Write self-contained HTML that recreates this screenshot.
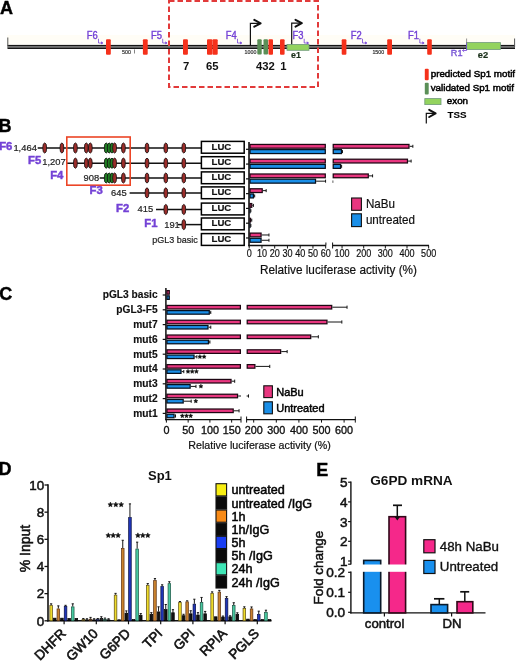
<!DOCTYPE html>
<html><head><meta charset="utf-8"><style>
html,body{margin:0;padding:0;background:#fff;overflow:hidden;}
svg{display:block;font-family:"Liberation Sans",sans-serif;will-change:transform;}
</style></head><body>
<svg width="520" height="661" viewBox="0 0 520 661">
<rect x="0" y="0" width="520" height="661" fill="#fff"/>
<text x="0" y="14" font-size="18" font-weight="bold" fill="#000" text-anchor="start" stroke="#000" stroke-width="0.4" >A</text>
<rect x="7.00" y="35.00" width="508.00" height="9.50" fill="#fffdf6" stroke="none" stroke-width="0" rx="0" />
<rect x="7.50" y="44.90" width="507.50" height="4.10" fill="#161616" stroke="none" stroke-width="0" rx="0" />
<rect x="7.50" y="46.35" width="507.50" height="1.15" fill="#a8a8a8" stroke="none" stroke-width="0" rx="0" />
<line x1="7.80" y1="37.50" x2="7.80" y2="46.00" stroke="#555" stroke-width="1" />
<line x1="514.60" y1="38.50" x2="514.60" y2="47.00" stroke="#555" stroke-width="1" />
<text x="122" y="53.8" font-size="5.3" font-weight="normal" fill="#333" text-anchor="start" stroke="#333" stroke-width="0.2" >500</text>
<text x="244.6" y="53.8" font-size="5.3" font-weight="normal" fill="#333" text-anchor="start" stroke="#333" stroke-width="0.2" >1000</text>
<text x="372.4" y="53.8" font-size="5.3" font-weight="normal" fill="#333" text-anchor="start" stroke="#333" stroke-width="0.2" >1500</text>
<line x1="134.50" y1="49.50" x2="134.50" y2="53.50" stroke="#333" stroke-width="0.6" />
<path d="M250.4 45.5 V23.3 H259.7" fill="none" stroke="#111" stroke-width="1.2"/>
<path d="M254.29999999999998 19.900000000000002 L260.59999999999997 23.3 L254.29999999999998 26.7" fill="none" stroke="#111" stroke-width="2" stroke-linecap="round" stroke-linejoin="round"/>
<path d="M291.7 45.5 V23.2 H300.9" fill="none" stroke="#111" stroke-width="1.2"/>
<path d="M295.5 19.8 L301.79999999999995 23.2 L295.5 26.599999999999998" fill="none" stroke="#111" stroke-width="2" stroke-linecap="round" stroke-linejoin="round"/>
<rect x="287.00" y="44.50" width="22.00" height="5.80" fill="#93d35e" stroke="#6f9a7a" stroke-width="0.8" rx="0" />
<rect x="466.50" y="42.60" width="34.00" height="6.90" fill="#93d35e" stroke="#6f9a7a" stroke-width="0.8" rx="0" />
<line x1="466.60" y1="38.50" x2="466.60" y2="43.00" stroke="#777" stroke-width="0.8" />
<rect x="106.00" y="39.30" width="4.80" height="15.40" fill="#f5311b" stroke="none" stroke-width="0" rx="1" />
<rect x="142.90" y="39.30" width="4.80" height="15.40" fill="#f5311b" stroke="none" stroke-width="0" rx="1" />
<rect x="183.00" y="39.30" width="4.90" height="15.40" fill="#f5311b" stroke="none" stroke-width="0" rx="1" />
<rect x="207.00" y="39.30" width="5.30" height="15.40" fill="#f5311b" stroke="none" stroke-width="0" rx="1" />
<rect x="212.40" y="39.30" width="5.30" height="15.40" fill="#f5311b" stroke="none" stroke-width="0" rx="1" />
<rect x="268.50" y="39.30" width="4.50" height="15.40" fill="#f5311b" stroke="none" stroke-width="0" rx="1" />
<rect x="280.00" y="39.30" width="4.60" height="15.40" fill="#f5311b" stroke="none" stroke-width="0" rx="1" />
<rect x="341.70" y="39.30" width="4.70" height="15.40" fill="#f5311b" stroke="none" stroke-width="0" rx="1" />
<rect x="387.20" y="39.30" width="4.80" height="15.40" fill="#f5311b" stroke="none" stroke-width="0" rx="1" />
<rect x="427.20" y="39.30" width="4.60" height="15.40" fill="#f5311b" stroke="none" stroke-width="0" rx="1" />
<rect x="257.30" y="39.20" width="4.40" height="15.40" fill="#5b8f57" stroke="none" stroke-width="0" rx="1" />
<rect x="263.50" y="39.20" width="4.50" height="15.40" fill="#5b8f57" stroke="none" stroke-width="0" rx="1" />
<text transform="translate(86.8,38.5) scale(0.87,1)" font-size="10.8" font-weight="normal" fill="#7442d6" text-anchor="start" stroke="#7442d6" stroke-width="0.4" >F6</text>
<path d="M98.5 38.8 V43.0 H102.7" fill="none" stroke="#7442d6" stroke-width="0.8"/>
<path d="M101.1 41.7 L102.9 43.0 L101.1 44.0" fill="#7442d6" stroke="#7442d6" stroke-width="0.6"/>
<text transform="translate(151.0,38.5) scale(0.87,1)" font-size="10.8" font-weight="normal" fill="#7442d6" text-anchor="start" stroke="#7442d6" stroke-width="0.4" >F5</text>
<path d="M162.7 38.8 V43.0 H166.89999999999998" fill="none" stroke="#7442d6" stroke-width="0.8"/>
<path d="M165.29999999999998 41.7 L167.1 43.0 L165.29999999999998 44.0" fill="#7442d6" stroke="#7442d6" stroke-width="0.6"/>
<text transform="translate(225.8,38.5) scale(0.87,1)" font-size="10.8" font-weight="normal" fill="#7442d6" text-anchor="start" stroke="#7442d6" stroke-width="0.4" >F4</text>
<path d="M237.5 38.8 V43.0 H241.7" fill="none" stroke="#7442d6" stroke-width="0.8"/>
<path d="M240.1 41.7 L241.9 43.0 L240.1 44.0" fill="#7442d6" stroke="#7442d6" stroke-width="0.6"/>
<text transform="translate(292.5,38.5) scale(0.87,1)" font-size="10.8" font-weight="normal" fill="#7442d6" text-anchor="start" stroke="#7442d6" stroke-width="0.4" >F3</text>
<path d="M304.2 38.8 V43.0 H308.4" fill="none" stroke="#7442d6" stroke-width="0.8"/>
<path d="M306.8 41.7 L308.59999999999997 43.0 L306.8 44.0" fill="#7442d6" stroke="#7442d6" stroke-width="0.6"/>
<text transform="translate(350.8,38.5) scale(0.87,1)" font-size="10.8" font-weight="normal" fill="#7442d6" text-anchor="start" stroke="#7442d6" stroke-width="0.4" >F2</text>
<path d="M362.5 38.8 V43.0 H366.7" fill="none" stroke="#7442d6" stroke-width="0.8"/>
<path d="M365.1 41.7 L366.9 43.0 L365.1 44.0" fill="#7442d6" stroke="#7442d6" stroke-width="0.6"/>
<text transform="translate(408.1,38.5) scale(0.87,1)" font-size="10.8" font-weight="normal" fill="#7442d6" text-anchor="start" stroke="#7442d6" stroke-width="0.4" >F1</text>
<path d="M419.8 38.8 V43.0 H424.0" fill="none" stroke="#7442d6" stroke-width="0.8"/>
<path d="M422.40000000000003 41.7 L424.2 43.0 L422.40000000000003 44.0" fill="#7442d6" stroke="#7442d6" stroke-width="0.6"/>
<text x="450.8" y="56.4" font-size="9.2" font-weight="normal" fill="#7552d4" text-anchor="start" stroke="#7552d4" stroke-width="0.35" >R1</text>
<path d="M466.6 43 V50.5 H462.5" fill="none" stroke="#7442d6" stroke-width="0.8"/>
<path d="M464.2 49 L462.5 50.5 L464.2 52" fill="none" stroke="#7442d6" stroke-width="0.7"/>
<text x="291.0" y="58.0" font-size="8.9" font-weight="bold" fill="#1a301a" text-anchor="start" stroke="#1a301a" stroke-width="0.2" >e1</text>
<text x="477.8" y="58.0" font-size="9.3" font-weight="bold" fill="#1a301a" text-anchor="start" stroke="#1a301a" stroke-width="0.2" >e2</text>
<text x="183" y="69.6" font-size="11.3" font-weight="bold" fill="#111" text-anchor="start" >7</text>
<text x="206" y="69.6" font-size="11.3" font-weight="bold" fill="#111" text-anchor="start" >65</text>
<text x="256" y="69.6" font-size="11.3" font-weight="bold" fill="#111" text-anchor="start" >432</text>
<text x="280.2" y="69.6" font-size="11.3" font-weight="bold" fill="#111" text-anchor="start" >1</text>
<rect x="169" y="1" width="149" height="86" fill="none" stroke="#e23a3a" stroke-width="2" stroke-dasharray="5.5 3"/>
<rect x="424.80" y="68.70" width="3.90" height="11.50" fill="#f5311b" stroke="none" stroke-width="0" rx="1" />
<rect x="424.80" y="82.80" width="3.90" height="11.80" fill="#5b8f57" stroke="none" stroke-width="0" rx="1" />
<rect x="424.80" y="98.60" width="16.20" height="6.00" fill="#93d35e" stroke="#6f9a7a" stroke-width="0.8" rx="0" />
<text x="430.7" y="77.1" font-size="9.8" font-weight="normal" fill="#000" text-anchor="start" stroke="#000" stroke-width="0.5" >predicted Sp1 motif</text>
<text x="430.7" y="90.6" font-size="9.8" font-weight="normal" fill="#000" text-anchor="start" stroke="#000" stroke-width="0.5" >validated Sp1 motif</text>
<text x="446.8" y="103.7" font-size="9.8" font-weight="normal" fill="#000" text-anchor="start" stroke="#000" stroke-width="0.5" >exon</text>
<text x="447.5" y="117.6" font-size="9.8" font-weight="bold" fill="#000" text-anchor="start" stroke="#000" stroke-width="0.1" >TSS</text>
<path d="M426.3 123.6 V113.4 H435" fill="none" stroke="#111" stroke-width="1.2"/>
<path d="M429.2 109.8 L435.6 113.4 L429.2 117" fill="none" stroke="#111" stroke-width="2" stroke-linecap="round" stroke-linejoin="round"/>
<text x="-1.5" y="131.5" font-size="18" font-weight="bold" fill="#000" text-anchor="start" stroke="#000" stroke-width="0.4" >B</text>
<line x1="37.70" y1="148.00" x2="201.20" y2="148.00" stroke="#111" stroke-width="1.5" />
<ellipse cx="106.2" cy="148.0" rx="1.95" ry="5.1" fill="#1f7d22" stroke="#111" stroke-width="0.8"/>
<ellipse cx="109.2" cy="148.0" rx="1.95" ry="5.1" fill="#1f7d22" stroke="#111" stroke-width="0.8"/>
<ellipse cx="112" cy="148.0" rx="1.95" ry="5.1" fill="#1f7d22" stroke="#111" stroke-width="0.8"/>
<ellipse cx="44.7" cy="148.0" rx="1.95" ry="5.1" fill="#9c2d2a" stroke="#111" stroke-width="0.8"/>
<ellipse cx="61.9" cy="148.0" rx="1.95" ry="5.1" fill="#9c2d2a" stroke="#111" stroke-width="0.8"/>
<ellipse cx="75.4" cy="148.0" rx="1.95" ry="5.1" fill="#9c2d2a" stroke="#111" stroke-width="0.8"/>
<ellipse cx="86.3" cy="148.0" rx="1.95" ry="5.1" fill="#9c2d2a" stroke="#111" stroke-width="0.8"/>
<ellipse cx="90.3" cy="148.0" rx="1.95" ry="5.1" fill="#9c2d2a" stroke="#111" stroke-width="0.8"/>
<ellipse cx="114.6" cy="148.0" rx="1.95" ry="5.1" fill="#9c2d2a" stroke="#111" stroke-width="0.8"/>
<ellipse cx="123.4" cy="148.0" rx="1.95" ry="5.1" fill="#9c2d2a" stroke="#111" stroke-width="0.8"/>
<ellipse cx="147" cy="148.0" rx="1.95" ry="5.1" fill="#9c2d2a" stroke="#111" stroke-width="0.8"/>
<ellipse cx="165.8" cy="148.0" rx="1.95" ry="5.1" fill="#9c2d2a" stroke="#111" stroke-width="0.8"/>
<ellipse cx="183.8" cy="148.0" rx="1.95" ry="5.1" fill="#9c2d2a" stroke="#111" stroke-width="0.8"/>
<line x1="66.20" y1="163.20" x2="201.20" y2="163.20" stroke="#111" stroke-width="1.5" />
<ellipse cx="106.2" cy="163.2" rx="1.95" ry="5.1" fill="#1f7d22" stroke="#111" stroke-width="0.8"/>
<ellipse cx="109.2" cy="163.2" rx="1.95" ry="5.1" fill="#1f7d22" stroke="#111" stroke-width="0.8"/>
<ellipse cx="112" cy="163.2" rx="1.95" ry="5.1" fill="#1f7d22" stroke="#111" stroke-width="0.8"/>
<ellipse cx="75.4" cy="163.2" rx="1.95" ry="5.1" fill="#9c2d2a" stroke="#111" stroke-width="0.8"/>
<ellipse cx="86.3" cy="163.2" rx="1.95" ry="5.1" fill="#9c2d2a" stroke="#111" stroke-width="0.8"/>
<ellipse cx="90.3" cy="163.2" rx="1.95" ry="5.1" fill="#9c2d2a" stroke="#111" stroke-width="0.8"/>
<ellipse cx="114.6" cy="163.2" rx="1.95" ry="5.1" fill="#9c2d2a" stroke="#111" stroke-width="0.8"/>
<ellipse cx="123.4" cy="163.2" rx="1.95" ry="5.1" fill="#9c2d2a" stroke="#111" stroke-width="0.8"/>
<ellipse cx="147" cy="163.2" rx="1.95" ry="5.1" fill="#9c2d2a" stroke="#111" stroke-width="0.8"/>
<ellipse cx="165.8" cy="163.2" rx="1.95" ry="5.1" fill="#9c2d2a" stroke="#111" stroke-width="0.8"/>
<ellipse cx="183.8" cy="163.2" rx="1.95" ry="5.1" fill="#9c2d2a" stroke="#111" stroke-width="0.8"/>
<line x1="99.70" y1="178.00" x2="201.20" y2="178.00" stroke="#111" stroke-width="1.5" />
<ellipse cx="106.2" cy="178.0" rx="1.95" ry="5.1" fill="#1f7d22" stroke="#111" stroke-width="0.8"/>
<ellipse cx="109.2" cy="178.0" rx="1.95" ry="5.1" fill="#1f7d22" stroke="#111" stroke-width="0.8"/>
<ellipse cx="112" cy="178.0" rx="1.95" ry="5.1" fill="#1f7d22" stroke="#111" stroke-width="0.8"/>
<ellipse cx="114.6" cy="178.0" rx="1.95" ry="5.1" fill="#9c2d2a" stroke="#111" stroke-width="0.8"/>
<ellipse cx="123.4" cy="178.0" rx="1.95" ry="5.1" fill="#9c2d2a" stroke="#111" stroke-width="0.8"/>
<ellipse cx="147" cy="178.0" rx="1.95" ry="5.1" fill="#9c2d2a" stroke="#111" stroke-width="0.8"/>
<ellipse cx="165.8" cy="178.0" rx="1.95" ry="5.1" fill="#9c2d2a" stroke="#111" stroke-width="0.8"/>
<ellipse cx="183.8" cy="178.0" rx="1.95" ry="5.1" fill="#9c2d2a" stroke="#111" stroke-width="0.8"/>
<line x1="129.60" y1="192.90" x2="201.20" y2="192.90" stroke="#111" stroke-width="1.5" />
<ellipse cx="147" cy="192.9" rx="1.95" ry="5.1" fill="#9c2d2a" stroke="#111" stroke-width="0.8"/>
<ellipse cx="165.8" cy="192.9" rx="1.95" ry="5.1" fill="#9c2d2a" stroke="#111" stroke-width="0.8"/>
<ellipse cx="183.8" cy="192.9" rx="1.95" ry="5.1" fill="#9c2d2a" stroke="#111" stroke-width="0.8"/>
<line x1="156.00" y1="209.50" x2="201.20" y2="209.50" stroke="#111" stroke-width="1.5" />
<ellipse cx="165.8" cy="209.5" rx="1.95" ry="5.1" fill="#9c2d2a" stroke="#111" stroke-width="0.8"/>
<ellipse cx="183.8" cy="209.5" rx="1.95" ry="5.1" fill="#9c2d2a" stroke="#111" stroke-width="0.8"/>
<line x1="178.00" y1="224.60" x2="201.20" y2="224.60" stroke="#111" stroke-width="1.5" />
<ellipse cx="183.8" cy="224.6" rx="1.95" ry="5.1" fill="#9c2d2a" stroke="#111" stroke-width="0.8"/>
<rect x="66.80" y="137.00" width="63.40" height="48.20" fill="none" stroke="#ec4526" stroke-width="1.6" rx="0" />
<rect x="201.40" y="141.40" width="42.80" height="11.80" fill="#fff" stroke="#000" stroke-width="1.5" rx="0" />
<text x="221.4" y="149.5" font-size="9.6" font-weight="bold" fill="#111" text-anchor="middle" stroke="#111" stroke-width="0.2" >LUC</text>
<rect x="201.40" y="156.70" width="42.80" height="11.80" fill="#fff" stroke="#000" stroke-width="1.5" rx="0" />
<text x="221.4" y="164.8" font-size="9.6" font-weight="bold" fill="#111" text-anchor="middle" stroke="#111" stroke-width="0.2" >LUC</text>
<rect x="201.40" y="171.90" width="42.80" height="11.80" fill="#fff" stroke="#000" stroke-width="1.5" rx="0" />
<text x="221.4" y="180.0" font-size="9.6" font-weight="bold" fill="#111" text-anchor="middle" stroke="#111" stroke-width="0.2" >LUC</text>
<rect x="201.40" y="186.90" width="42.80" height="11.80" fill="#fff" stroke="#000" stroke-width="1.5" rx="0" />
<text x="221.4" y="195.0" font-size="9.6" font-weight="bold" fill="#111" text-anchor="middle" stroke="#111" stroke-width="0.2" >LUC</text>
<rect x="201.40" y="203.10" width="42.80" height="11.80" fill="#fff" stroke="#000" stroke-width="1.5" rx="0" />
<text x="221.4" y="211.2" font-size="9.6" font-weight="bold" fill="#111" text-anchor="middle" stroke="#111" stroke-width="0.2" >LUC</text>
<rect x="201.40" y="218.00" width="42.80" height="11.80" fill="#fff" stroke="#000" stroke-width="1.5" rx="0" />
<text x="221.4" y="226.1" font-size="9.6" font-weight="bold" fill="#111" text-anchor="middle" stroke="#111" stroke-width="0.2" >LUC</text>
<rect x="201.40" y="233.60" width="42.80" height="11.80" fill="#fff" stroke="#000" stroke-width="1.5" rx="0" />
<text x="221.4" y="241.7" font-size="9.6" font-weight="bold" fill="#111" text-anchor="middle" stroke="#111" stroke-width="0.2" >LUC</text>
<text x="-0.8" y="150.1" font-size="11.3" font-weight="bold" fill="#7442d6" text-anchor="start" stroke="#7442d6" stroke-width="0.45" >F6</text>
<text x="28.0" y="164.4" font-size="11.3" font-weight="bold" fill="#7442d6" text-anchor="start" stroke="#7442d6" stroke-width="0.45" >F5</text>
<text x="50.2" y="179" font-size="11.3" font-weight="bold" fill="#7442d6" text-anchor="start" stroke="#7442d6" stroke-width="0.45" >F4</text>
<text x="89.5" y="194.4" font-size="11.3" font-weight="bold" fill="#7442d6" text-anchor="start" stroke="#7442d6" stroke-width="0.45" >F3</text>
<text x="116" y="212.3" font-size="11.3" font-weight="bold" fill="#7442d6" text-anchor="start" stroke="#7442d6" stroke-width="0.45" >F2</text>
<text x="144.3" y="227" font-size="11.3" font-weight="bold" fill="#7442d6" text-anchor="start" stroke="#7442d6" stroke-width="0.45" >F1</text>
<text x="13.4" y="150.9" font-size="9.4" font-weight="normal" fill="#222" text-anchor="start" stroke="#222" stroke-width="0.2" >1,464</text>
<text x="42.3" y="165.4" font-size="9.4" font-weight="normal" fill="#222" text-anchor="start" stroke="#222" stroke-width="0.2" >1,207</text>
<text x="83.6" y="181.2" font-size="9.4" font-weight="normal" fill="#222" text-anchor="start" stroke="#222" stroke-width="0.2" >908</text>
<text x="111" y="196.4" font-size="9.4" font-weight="normal" fill="#222" text-anchor="start" stroke="#222" stroke-width="0.2" >645</text>
<text x="137.5" y="212.3" font-size="9.4" font-weight="normal" fill="#222" text-anchor="start" stroke="#222" stroke-width="0.2" >415</text>
<text x="164.2" y="227.6" font-size="9.4" font-weight="normal" fill="#222" text-anchor="start" stroke="#222" stroke-width="0.2" >191</text>
<text x="197.8" y="242.6" font-size="9" font-weight="normal" fill="#222" text-anchor="end" stroke="#222" stroke-width="0.2" >pGL3 basic</text>
<line x1="249.00" y1="142.00" x2="249.00" y2="246.20" stroke="#111" stroke-width="1.6" />
<line x1="246.00" y1="149.30" x2="249.00" y2="149.30" stroke="#111" stroke-width="1.2" />
<line x1="246.00" y1="164.08" x2="249.00" y2="164.08" stroke="#111" stroke-width="1.2" />
<line x1="246.00" y1="178.86" x2="249.00" y2="178.86" stroke="#111" stroke-width="1.2" />
<line x1="246.00" y1="193.64" x2="249.00" y2="193.64" stroke="#111" stroke-width="1.2" />
<line x1="246.00" y1="208.42" x2="249.00" y2="208.42" stroke="#111" stroke-width="1.2" />
<line x1="246.00" y1="223.20" x2="249.00" y2="223.20" stroke="#111" stroke-width="1.2" />
<line x1="246.00" y1="237.98" x2="249.00" y2="237.98" stroke="#111" stroke-width="1.2" />
<rect x="250.03" y="144.43" width="75.25" height="3.75" fill="#e8367f" stroke="#1e0612" stroke-width="1.25" rx="0" />
<rect x="333.23" y="144.43" width="75.75" height="3.75" fill="#e8367f" stroke="#1e0612" stroke-width="1.25" rx="0" />
<line x1="409.60" y1="146.30" x2="412.85" y2="146.30" stroke="#151515" stroke-width="1.0" />
<line x1="412.85" y1="144.80" x2="412.85" y2="147.80" stroke="#151515" stroke-width="1.0" />
<rect x="250.03" y="149.62" width="75.25" height="3.95" fill="#1a8fe8" stroke="#06101e" stroke-width="1.25" rx="0" />
<rect x="333.23" y="149.62" width="8.20" height="3.95" fill="#1a8fe8" stroke="#06101e" stroke-width="1.25" rx="0" />
<line x1="342.05" y1="151.60" x2="342.48" y2="151.60" stroke="#151515" stroke-width="1.0" />
<line x1="342.48" y1="150.10" x2="342.48" y2="153.10" stroke="#151515" stroke-width="1.0" />
<rect x="250.03" y="159.21" width="75.25" height="3.75" fill="#e8367f" stroke="#1e0612" stroke-width="1.25" rx="0" />
<rect x="333.23" y="159.21" width="74.23" height="3.75" fill="#e8367f" stroke="#1e0612" stroke-width="1.25" rx="0" />
<line x1="408.08" y1="161.08" x2="411.11" y2="161.08" stroke="#151515" stroke-width="1.0" />
<line x1="411.11" y1="159.58" x2="411.11" y2="162.58" stroke="#151515" stroke-width="1.0" />
<rect x="250.03" y="164.41" width="75.25" height="3.95" fill="#1a8fe8" stroke="#06101e" stroke-width="1.25" rx="0" />
<rect x="333.23" y="164.41" width="7.33" height="3.95" fill="#1a8fe8" stroke="#06101e" stroke-width="1.25" rx="0" />
<line x1="341.18" y1="166.38" x2="341.62" y2="166.38" stroke="#151515" stroke-width="1.0" />
<line x1="341.62" y1="164.88" x2="341.62" y2="167.88" stroke="#151515" stroke-width="1.0" />
<rect x="250.03" y="173.99" width="75.25" height="3.75" fill="#e8367f" stroke="#1e0612" stroke-width="1.25" rx="0" />
<rect x="333.23" y="173.99" width="35.05" height="3.75" fill="#e8367f" stroke="#1e0612" stroke-width="1.25" rx="0" />
<line x1="368.90" y1="175.86" x2="372.58" y2="175.86" stroke="#151515" stroke-width="1.0" />
<line x1="372.58" y1="174.36" x2="372.58" y2="177.36" stroke="#151515" stroke-width="1.0" />
<rect x="250.03" y="179.19" width="65.49" height="3.95" fill="#1a8fe8" stroke="#06101e" stroke-width="1.25" rx="0" />
<line x1="316.14" y1="181.16" x2="325.57" y2="181.16" stroke="#151515" stroke-width="1.0" />
<line x1="325.57" y1="179.66" x2="325.57" y2="182.66" stroke="#151515" stroke-width="1.0" />
<rect x="250.03" y="188.77" width="12.19" height="3.75" fill="#e8367f" stroke="#1e0612" stroke-width="1.25" rx="0" />
<line x1="262.84" y1="190.64" x2="266.16" y2="190.64" stroke="#151515" stroke-width="1.0" />
<line x1="266.16" y1="189.14" x2="266.16" y2="192.14" stroke="#151515" stroke-width="1.0" />
<rect x="250.03" y="193.97" width="3.39" height="3.95" fill="#1a8fe8" stroke="#06101e" stroke-width="1.25" rx="0" />
<line x1="254.04" y1="195.94" x2="254.68" y2="195.94" stroke="#151515" stroke-width="1.0" />
<line x1="254.68" y1="194.44" x2="254.68" y2="197.44" stroke="#151515" stroke-width="1.0" />
<rect x="250.03" y="203.55" width="1.74" height="3.75" fill="#e8367f" stroke="#1e0612" stroke-width="1.25" rx="0" />
<line x1="252.39" y1="205.42" x2="253.41" y2="205.42" stroke="#151515" stroke-width="1.0" />
<line x1="253.41" y1="203.92" x2="253.41" y2="206.92" stroke="#151515" stroke-width="1.0" />
<rect x="250.03" y="208.75" width="0.01" height="3.95" fill="#1a8fe8" stroke="#06101e" stroke-width="1.25" rx="0" />
<line x1="250.47" y1="210.72" x2="250.86" y2="210.72" stroke="#151515" stroke-width="1.0" />
<line x1="250.86" y1="209.22" x2="250.86" y2="212.22" stroke="#151515" stroke-width="1.0" />
<rect x="250.03" y="218.32" width="0.46" height="3.75" fill="#e8367f" stroke="#1e0612" stroke-width="1.25" rx="0" />
<line x1="251.11" y1="220.20" x2="251.75" y2="220.20" stroke="#151515" stroke-width="1.0" />
<line x1="251.75" y1="218.70" x2="251.75" y2="221.70" stroke="#151515" stroke-width="1.0" />
<rect x="250.03" y="223.52" width="0.01" height="3.95" fill="#1a8fe8" stroke="#06101e" stroke-width="1.25" rx="0" />
<line x1="250.47" y1="225.50" x2="250.86" y2="225.50" stroke="#151515" stroke-width="1.0" />
<line x1="250.86" y1="224.00" x2="250.86" y2="227.00" stroke="#151515" stroke-width="1.0" />
<rect x="250.03" y="233.11" width="11.04" height="3.75" fill="#e8367f" stroke="#1e0612" stroke-width="1.25" rx="0" />
<line x1="261.69" y1="234.98" x2="268.96" y2="234.98" stroke="#151515" stroke-width="1.0" />
<line x1="268.96" y1="233.48" x2="268.96" y2="236.48" stroke="#151515" stroke-width="1.0" />
<rect x="250.03" y="238.31" width="11.04" height="3.95" fill="#1a8fe8" stroke="#06101e" stroke-width="1.25" rx="0" />
<line x1="261.69" y1="240.28" x2="268.96" y2="240.28" stroke="#151515" stroke-width="1.0" />
<line x1="268.96" y1="238.78" x2="268.96" y2="241.78" stroke="#151515" stroke-width="1.0" />
<line x1="332.90" y1="180.46" x2="332.90" y2="182.86" stroke="#333" stroke-width="0.8" />
<line x1="248.20" y1="245.50" x2="325.90" y2="245.50" stroke="#111" stroke-width="1.4" />
<line x1="332.60" y1="245.50" x2="429.00" y2="245.50" stroke="#111" stroke-width="1.4" />
<line x1="325.90" y1="242.50" x2="325.90" y2="245.50" stroke="#111" stroke-width="1" />
<line x1="332.60" y1="242.50" x2="332.60" y2="248.50" stroke="#111" stroke-width="1" />
<line x1="249.20" y1="245.50" x2="249.20" y2="248.50" stroke="#111" stroke-width="1" />
<text transform="translate(249.2,257.2) scale(0.84,1)" font-size="10.8" font-weight="normal" fill="#111" text-anchor="middle" stroke="#111" stroke-width="0.2" >0</text>
<line x1="261.95" y1="245.50" x2="261.95" y2="248.50" stroke="#111" stroke-width="1" />
<text transform="translate(261.95,257.2) scale(0.84,1)" font-size="10.8" font-weight="normal" fill="#111" text-anchor="middle" stroke="#111" stroke-width="0.2" >10</text>
<line x1="274.70" y1="245.50" x2="274.70" y2="248.50" stroke="#111" stroke-width="1" />
<text transform="translate(274.7,257.2) scale(0.84,1)" font-size="10.8" font-weight="normal" fill="#111" text-anchor="middle" stroke="#111" stroke-width="0.2" >20</text>
<line x1="287.45" y1="245.50" x2="287.45" y2="248.50" stroke="#111" stroke-width="1" />
<text transform="translate(287.45,257.2) scale(0.84,1)" font-size="10.8" font-weight="normal" fill="#111" text-anchor="middle" stroke="#111" stroke-width="0.2" >30</text>
<line x1="300.20" y1="245.50" x2="300.20" y2="248.50" stroke="#111" stroke-width="1" />
<text transform="translate(300.2,257.2) scale(0.84,1)" font-size="10.8" font-weight="normal" fill="#111" text-anchor="middle" stroke="#111" stroke-width="0.2" >40</text>
<line x1="312.95" y1="245.50" x2="312.95" y2="248.50" stroke="#111" stroke-width="1" />
<text transform="translate(312.95,257.2) scale(0.84,1)" font-size="10.8" font-weight="normal" fill="#111" text-anchor="middle" stroke="#111" stroke-width="0.2" >50</text>
<line x1="325.70" y1="245.50" x2="325.70" y2="248.50" stroke="#111" stroke-width="1" />
<text transform="translate(325.7,257.2) scale(0.84,1)" font-size="10.8" font-weight="normal" fill="#111" text-anchor="middle" stroke="#111" stroke-width="0.2" >60</text>
<line x1="342.05" y1="245.50" x2="342.05" y2="248.50" stroke="#111" stroke-width="1" />
<text transform="translate(342.04999999999995,257.2) scale(0.84,1)" font-size="10.8" font-weight="normal" fill="#111" text-anchor="middle" stroke="#111" stroke-width="0.2" >100</text>
<line x1="363.70" y1="245.50" x2="363.70" y2="248.50" stroke="#111" stroke-width="1" />
<text transform="translate(363.7,257.2) scale(0.84,1)" font-size="10.8" font-weight="normal" fill="#111" text-anchor="middle" stroke="#111" stroke-width="0.2" >200</text>
<line x1="385.35" y1="245.50" x2="385.35" y2="248.50" stroke="#111" stroke-width="1" />
<text transform="translate(385.34999999999997,257.2) scale(0.84,1)" font-size="10.8" font-weight="normal" fill="#111" text-anchor="middle" stroke="#111" stroke-width="0.2" >300</text>
<line x1="407.00" y1="245.50" x2="407.00" y2="248.50" stroke="#111" stroke-width="1" />
<text transform="translate(407.0,257.2) scale(0.84,1)" font-size="10.8" font-weight="normal" fill="#111" text-anchor="middle" stroke="#111" stroke-width="0.2" >400</text>
<line x1="428.65" y1="245.50" x2="428.65" y2="248.50" stroke="#111" stroke-width="1" />
<text transform="translate(428.65,257.2) scale(0.84,1)" font-size="10.8" font-weight="normal" fill="#111" text-anchor="middle" stroke="#111" stroke-width="0.2" >500</text>
<text transform="translate(259.9,274.2) scale(0.893,1)" font-size="13.2" font-weight="normal" fill="#111" text-anchor="start" stroke="#111" stroke-width="0.2" >Relative luciferase activity (%)</text>
<rect x="351.60" y="198.00" width="9.80" height="12.30" fill="#e8367f" stroke="#111" stroke-width="1.1" rx="0" />
<rect x="351.60" y="213.80" width="9.80" height="12.80" fill="#1a8fe8" stroke="#111" stroke-width="1.1" rx="0" />
<text transform="translate(365.9,208.2) scale(0.93,1)" font-size="12.5" font-weight="normal" fill="#111" text-anchor="start" stroke="#111" stroke-width="0.2" >NaBu</text>
<text transform="translate(365.9,224.2) scale(0.93,1)" font-size="12.5" font-weight="normal" fill="#111" text-anchor="start" stroke="#111" stroke-width="0.2" >untreated</text>
<text x="-0.8" y="300.2" font-size="18" font-weight="bold" fill="#000" text-anchor="start" stroke="#000" stroke-width="0.4" >C</text>
<line x1="165.90" y1="288.00" x2="165.90" y2="420.20" stroke="#111" stroke-width="1.5" />
<line x1="162.70" y1="295.00" x2="165.90" y2="295.00" stroke="#111" stroke-width="1.2" />
<text x="157.6" y="298.4" font-size="10.2" font-weight="bold" fill="#111" text-anchor="end" stroke="#111" stroke-width="0.15" >pGL3 basic</text>
<line x1="162.70" y1="309.80" x2="165.90" y2="309.80" stroke="#111" stroke-width="1.2" />
<text x="157.6" y="313.2" font-size="10.2" font-weight="bold" fill="#111" text-anchor="end" stroke="#111" stroke-width="0.15" >pGL3-F5</text>
<line x1="162.70" y1="324.60" x2="165.90" y2="324.60" stroke="#111" stroke-width="1.2" />
<text x="157.6" y="328.0" font-size="10.2" font-weight="bold" fill="#111" text-anchor="end" stroke="#111" stroke-width="0.15" >mut7</text>
<line x1="162.70" y1="339.40" x2="165.90" y2="339.40" stroke="#111" stroke-width="1.2" />
<text x="157.6" y="342.79999999999995" font-size="10.2" font-weight="bold" fill="#111" text-anchor="end" stroke="#111" stroke-width="0.15" >mut6</text>
<line x1="162.70" y1="354.20" x2="165.90" y2="354.20" stroke="#111" stroke-width="1.2" />
<text x="157.6" y="357.59999999999997" font-size="10.2" font-weight="bold" fill="#111" text-anchor="end" stroke="#111" stroke-width="0.15" >mut5</text>
<line x1="162.70" y1="369.00" x2="165.90" y2="369.00" stroke="#111" stroke-width="1.2" />
<text x="157.6" y="372.4" font-size="10.2" font-weight="bold" fill="#111" text-anchor="end" stroke="#111" stroke-width="0.15" >mut4</text>
<line x1="162.70" y1="383.80" x2="165.90" y2="383.80" stroke="#111" stroke-width="1.2" />
<text x="157.6" y="387.2" font-size="10.2" font-weight="bold" fill="#111" text-anchor="end" stroke="#111" stroke-width="0.15" >mut3</text>
<line x1="162.70" y1="398.60" x2="165.90" y2="398.60" stroke="#111" stroke-width="1.2" />
<text x="157.6" y="402.0" font-size="10.2" font-weight="bold" fill="#111" text-anchor="end" stroke="#111" stroke-width="0.15" >mut2</text>
<line x1="162.70" y1="413.40" x2="165.90" y2="413.40" stroke="#111" stroke-width="1.2" />
<text x="157.6" y="416.79999999999995" font-size="10.2" font-weight="bold" fill="#111" text-anchor="end" stroke="#111" stroke-width="0.15" >mut1</text>
<rect x="166.93" y="290.62" width="2.33" height="3.55" fill="#e8367f" stroke="#1e0612" stroke-width="1.25" rx="0" />
<rect x="166.93" y="295.82" width="2.33" height="3.55" fill="#1a8fe8" stroke="#06101e" stroke-width="1.25" rx="0" />
<rect x="166.93" y="305.43" width="73.45" height="3.55" fill="#e8367f" stroke="#1e0612" stroke-width="1.25" rx="0" />
<rect x="247.22" y="305.43" width="84.50" height="3.55" fill="#e8367f" stroke="#1e0612" stroke-width="1.25" rx="0" />
<line x1="332.35" y1="307.20" x2="347.04" y2="307.20" stroke="#151515" stroke-width="1.0" />
<line x1="347.04" y1="305.60" x2="347.04" y2="308.80" stroke="#151515" stroke-width="1.0" />
<rect x="166.93" y="310.62" width="42.35" height="3.55" fill="#1a8fe8" stroke="#06101e" stroke-width="1.25" rx="0" />
<line x1="209.90" y1="312.40" x2="210.77" y2="312.40" stroke="#151515" stroke-width="1.0" />
<line x1="210.77" y1="310.80" x2="210.77" y2="314.00" stroke="#151515" stroke-width="1.0" />
<rect x="166.93" y="320.23" width="73.45" height="3.55" fill="#e8367f" stroke="#1e0612" stroke-width="1.25" rx="0" />
<rect x="247.22" y="320.23" width="79.75" height="3.55" fill="#e8367f" stroke="#1e0612" stroke-width="1.25" rx="0" />
<line x1="327.60" y1="322.00" x2="341.84" y2="322.00" stroke="#151515" stroke-width="1.0" />
<line x1="341.84" y1="320.40" x2="341.84" y2="323.60" stroke="#151515" stroke-width="1.0" />
<rect x="166.93" y="325.43" width="41.04" height="3.55" fill="#1a8fe8" stroke="#06101e" stroke-width="1.25" rx="0" />
<line x1="208.59" y1="327.20" x2="210.77" y2="327.20" stroke="#151515" stroke-width="1.0" />
<line x1="210.77" y1="325.60" x2="210.77" y2="328.80" stroke="#151515" stroke-width="1.0" />
<rect x="166.93" y="335.02" width="73.45" height="3.55" fill="#e8367f" stroke="#1e0612" stroke-width="1.25" rx="0" />
<rect x="247.22" y="335.02" width="63.48" height="3.55" fill="#e8367f" stroke="#1e0612" stroke-width="1.25" rx="0" />
<line x1="311.33" y1="336.80" x2="318.34" y2="336.80" stroke="#151515" stroke-width="1.0" />
<line x1="318.34" y1="335.20" x2="318.34" y2="338.40" stroke="#151515" stroke-width="1.0" />
<rect x="166.93" y="340.22" width="41.48" height="3.55" fill="#1a8fe8" stroke="#06101e" stroke-width="1.25" rx="0" />
<line x1="209.03" y1="342.00" x2="209.90" y2="342.00" stroke="#151515" stroke-width="1.0" />
<line x1="209.90" y1="340.40" x2="209.90" y2="343.60" stroke="#151515" stroke-width="1.0" />
<rect x="166.93" y="349.82" width="73.45" height="3.55" fill="#e8367f" stroke="#1e0612" stroke-width="1.25" rx="0" />
<rect x="247.22" y="349.82" width="33.42" height="3.55" fill="#e8367f" stroke="#1e0612" stroke-width="1.25" rx="0" />
<line x1="281.27" y1="351.60" x2="287.15" y2="351.60" stroke="#151515" stroke-width="1.0" />
<line x1="287.15" y1="350.00" x2="287.15" y2="353.20" stroke="#151515" stroke-width="1.0" />
<rect x="166.93" y="355.02" width="27.12" height="3.55" fill="#1a8fe8" stroke="#06101e" stroke-width="1.25" rx="0" />
<line x1="194.68" y1="356.80" x2="196.85" y2="356.80" stroke="#151515" stroke-width="1.0" />
<line x1="196.85" y1="355.20" x2="196.85" y2="358.40" stroke="#151515" stroke-width="1.0" />
<rect x="166.93" y="364.62" width="73.45" height="3.55" fill="#e8367f" stroke="#1e0612" stroke-width="1.25" rx="0" />
<rect x="247.22" y="364.62" width="7.66" height="3.55" fill="#e8367f" stroke="#1e0612" stroke-width="1.25" rx="0" />
<line x1="255.51" y1="366.40" x2="269.75" y2="366.40" stroke="#151515" stroke-width="1.0" />
<line x1="269.75" y1="364.80" x2="269.75" y2="368.00" stroke="#151515" stroke-width="1.0" />
<rect x="166.93" y="369.82" width="14.07" height="3.55" fill="#1a8fe8" stroke="#06101e" stroke-width="1.25" rx="0" />
<line x1="181.62" y1="371.60" x2="183.80" y2="371.60" stroke="#151515" stroke-width="1.0" />
<line x1="183.80" y1="370.00" x2="183.80" y2="373.20" stroke="#151515" stroke-width="1.0" />
<rect x="166.93" y="379.43" width="64.10" height="3.55" fill="#e8367f" stroke="#1e0612" stroke-width="1.25" rx="0" />
<line x1="231.65" y1="381.20" x2="234.69" y2="381.20" stroke="#151515" stroke-width="1.0" />
<line x1="234.69" y1="379.60" x2="234.69" y2="382.80" stroke="#151515" stroke-width="1.0" />
<rect x="166.93" y="384.62" width="23.21" height="3.55" fill="#1a8fe8" stroke="#06101e" stroke-width="1.25" rx="0" />
<line x1="190.76" y1="386.40" x2="195.98" y2="386.40" stroke="#151515" stroke-width="1.0" />
<line x1="195.98" y1="384.80" x2="195.98" y2="388.00" stroke="#151515" stroke-width="1.0" />
<rect x="166.93" y="394.23" width="70.62" height="3.55" fill="#e8367f" stroke="#1e0612" stroke-width="1.25" rx="0" />
<line x1="238.18" y1="396.00" x2="241.00" y2="396.00" stroke="#151515" stroke-width="1.0" />
<line x1="246.60" y1="396.00" x2="248.50" y2="396.00" stroke="#151515" stroke-width="1.0" />
<line x1="248.50" y1="394.40" x2="248.50" y2="397.60" stroke="#151515" stroke-width="1.0" />
<rect x="166.93" y="399.43" width="16.25" height="3.55" fill="#1a8fe8" stroke="#06101e" stroke-width="1.25" rx="0" />
<line x1="183.80" y1="401.20" x2="191.19" y2="401.20" stroke="#151515" stroke-width="1.0" />
<line x1="191.19" y1="399.60" x2="191.19" y2="402.80" stroke="#151515" stroke-width="1.0" />
<rect x="166.93" y="409.02" width="66.27" height="3.55" fill="#e8367f" stroke="#1e0612" stroke-width="1.25" rx="0" />
<line x1="233.82" y1="410.80" x2="239.05" y2="410.80" stroke="#151515" stroke-width="1.0" />
<line x1="239.05" y1="409.20" x2="239.05" y2="412.40" stroke="#151515" stroke-width="1.0" />
<rect x="166.93" y="414.22" width="7.12" height="3.55" fill="#1a8fe8" stroke="#06101e" stroke-width="1.25" rx="0" />
<line x1="174.67" y1="416.00" x2="175.53" y2="416.00" stroke="#151515" stroke-width="1.0" />
<line x1="175.53" y1="414.40" x2="175.53" y2="417.60" stroke="#151515" stroke-width="1.0" />
<polygon points="199.90,354.56 200.49,355.90 201.94,356.05 200.86,357.03 201.16,358.45 199.90,357.73 198.64,358.45 198.94,357.03 197.86,356.05 199.31,355.90" fill="#111" stroke="#111" stroke-width="0.5" stroke-linejoin="round"/>
<polygon points="204.10,354.56 204.69,355.90 206.14,356.05 205.06,357.03 205.36,358.45 204.10,357.73 202.84,358.45 203.14,357.03 202.06,356.05 203.51,355.90" fill="#111" stroke="#111" stroke-width="0.5" stroke-linejoin="round"/>
<polygon points="188.00,369.37 188.59,370.70 190.04,370.85 188.96,371.83 189.26,373.25 188.00,372.53 186.74,373.25 187.04,371.83 185.96,370.85 187.41,370.70" fill="#111" stroke="#111" stroke-width="0.5" stroke-linejoin="round"/>
<polygon points="192.20,369.37 192.79,370.70 194.24,370.85 193.16,371.83 193.46,373.25 192.20,372.53 190.94,373.25 191.24,371.83 190.16,370.85 191.61,370.70" fill="#111" stroke="#111" stroke-width="0.5" stroke-linejoin="round"/>
<polygon points="196.40,369.37 196.99,370.70 198.44,370.85 197.36,371.83 197.66,373.25 196.40,372.53 195.14,373.25 195.44,371.83 194.36,370.85 195.81,370.70" fill="#111" stroke="#111" stroke-width="0.5" stroke-linejoin="round"/>
<polygon points="200.90,384.17 201.49,385.50 202.94,385.65 201.86,386.63 202.16,388.05 200.90,387.33 199.64,388.05 199.94,386.63 198.86,385.65 200.31,385.50" fill="#111" stroke="#111" stroke-width="0.5" stroke-linejoin="round"/>
<polygon points="195.80,398.97 196.39,400.30 197.84,400.45 196.76,401.43 197.06,402.85 195.80,402.13 194.54,402.85 194.84,401.43 193.76,400.45 195.21,400.30" fill="#111" stroke="#111" stroke-width="0.5" stroke-linejoin="round"/>
<polygon points="182.30,413.76 182.89,415.10 184.34,415.25 183.26,416.23 183.56,417.65 182.30,416.93 181.04,417.65 181.34,416.23 180.26,415.25 181.71,415.10" fill="#111" stroke="#111" stroke-width="0.5" stroke-linejoin="round"/>
<polygon points="186.50,413.76 187.09,415.10 188.54,415.25 187.46,416.23 187.76,417.65 186.50,416.93 185.24,417.65 185.54,416.23 184.46,415.25 185.91,415.10" fill="#111" stroke="#111" stroke-width="0.5" stroke-linejoin="round"/>
<polygon points="190.70,413.76 191.29,415.10 192.74,415.25 191.66,416.23 191.96,417.65 190.70,416.93 189.44,417.65 189.74,416.23 188.66,415.25 190.11,415.10" fill="#111" stroke="#111" stroke-width="0.5" stroke-linejoin="round"/>
<line x1="165.20" y1="419.60" x2="241.00" y2="419.60" stroke="#111" stroke-width="1.4" />
<line x1="246.60" y1="419.60" x2="355.30" y2="419.60" stroke="#111" stroke-width="1.4" />
<line x1="241.00" y1="416.50" x2="241.00" y2="422.60" stroke="#111" stroke-width="1" />
<line x1="246.60" y1="416.50" x2="246.60" y2="422.60" stroke="#111" stroke-width="1" />
<line x1="355.30" y1="416.50" x2="355.30" y2="422.60" stroke="#111" stroke-width="1" />
<line x1="166.40" y1="419.60" x2="166.40" y2="422.60" stroke="#111" stroke-width="1" />
<text x="166.4" y="433.6" font-size="10.8" font-weight="normal" fill="#111" text-anchor="middle" stroke="#111" stroke-width="0.35" >0</text>
<line x1="188.15" y1="419.60" x2="188.15" y2="422.60" stroke="#111" stroke-width="1" />
<text x="188.15" y="433.6" font-size="10.8" font-weight="normal" fill="#111" text-anchor="middle" stroke="#111" stroke-width="0.35" >50</text>
<line x1="209.90" y1="419.60" x2="209.90" y2="422.60" stroke="#111" stroke-width="1" />
<text x="209.9" y="433.6" font-size="10.8" font-weight="normal" fill="#111" text-anchor="middle" stroke="#111" stroke-width="0.35" >100</text>
<line x1="231.65" y1="419.60" x2="231.65" y2="422.60" stroke="#111" stroke-width="1" />
<text x="231.65" y="433.6" font-size="10.8" font-weight="normal" fill="#111" text-anchor="middle" stroke="#111" stroke-width="0.35" >150</text>
<line x1="253.70" y1="419.60" x2="253.70" y2="422.60" stroke="#111" stroke-width="1" />
<text x="253.7" y="433.6" font-size="10.8" font-weight="normal" fill="#111" text-anchor="middle" stroke="#111" stroke-width="0.35" >200</text>
<line x1="276.30" y1="419.60" x2="276.30" y2="422.60" stroke="#111" stroke-width="1" />
<text x="276.3" y="433.6" font-size="10.8" font-weight="normal" fill="#111" text-anchor="middle" stroke="#111" stroke-width="0.35" >300</text>
<line x1="298.90" y1="419.60" x2="298.90" y2="422.60" stroke="#111" stroke-width="1" />
<text x="298.9" y="433.6" font-size="10.8" font-weight="normal" fill="#111" text-anchor="middle" stroke="#111" stroke-width="0.35" >400</text>
<line x1="321.50" y1="419.60" x2="321.50" y2="422.60" stroke="#111" stroke-width="1" />
<text x="321.5" y="433.6" font-size="10.8" font-weight="normal" fill="#111" text-anchor="middle" stroke="#111" stroke-width="0.35" >500</text>
<line x1="344.10" y1="419.60" x2="344.10" y2="422.60" stroke="#111" stroke-width="1" />
<text x="344.1" y="433.6" font-size="10.8" font-weight="normal" fill="#111" text-anchor="middle" stroke="#111" stroke-width="0.35" >600</text>
<text x="188.3" y="449.4" font-size="10.7" font-weight="normal" fill="#111" text-anchor="start" stroke="#111" stroke-width="0.2" >Relative luciferase activity (%)</text>
<rect x="263.80" y="385.80" width="8.60" height="11.80" fill="#e8367f" stroke="#111" stroke-width="1.1" rx="0" />
<rect x="263.80" y="401.80" width="8.60" height="12.00" fill="#1a8fe8" stroke="#111" stroke-width="1.1" rx="0" />
<text x="276.2" y="396.4" font-size="11" font-weight="normal" fill="#000" text-anchor="start" stroke="#000" stroke-width="0.45" >NaBu</text>
<text x="276.2" y="411.6" font-size="11" font-weight="normal" fill="#000" text-anchor="start" stroke="#000" stroke-width="0.45" >Untreated</text>
<text x="-1.5" y="475" font-size="18" font-weight="bold" fill="#000" text-anchor="start" stroke="#000" stroke-width="0.4" >D</text>
<text x="148" y="480.4" font-size="13" font-weight="bold" fill="#111" text-anchor="start" >Sp1</text>
<line x1="48.00" y1="484.30" x2="48.00" y2="621.50" stroke="#111" stroke-width="1.6" />
<line x1="44.50" y1="620.80" x2="48.00" y2="620.80" stroke="#111" stroke-width="1.3" />
<text x="44.2" y="625.5999999999999" font-size="13.4" font-weight="normal" fill="#111" text-anchor="end" stroke="#111" stroke-width="0.5">0</text>
<line x1="44.50" y1="593.64" x2="48.00" y2="593.64" stroke="#111" stroke-width="1.3" />
<text x="44.2" y="598.4399999999999" font-size="13.4" font-weight="normal" fill="#111" text-anchor="end" stroke="#111" stroke-width="0.5">2</text>
<line x1="44.50" y1="566.48" x2="48.00" y2="566.48" stroke="#111" stroke-width="1.3" />
<text x="44.2" y="571.2799999999999" font-size="13.4" font-weight="normal" fill="#111" text-anchor="end" stroke="#111" stroke-width="0.5">4</text>
<line x1="44.50" y1="539.32" x2="48.00" y2="539.32" stroke="#111" stroke-width="1.3" />
<text x="44.2" y="544.1199999999999" font-size="13.4" font-weight="normal" fill="#111" text-anchor="end" stroke="#111" stroke-width="0.5">6</text>
<line x1="44.50" y1="512.16" x2="48.00" y2="512.16" stroke="#111" stroke-width="1.3" />
<text x="44.2" y="516.9599999999999" font-size="13.4" font-weight="normal" fill="#111" text-anchor="end" stroke="#111" stroke-width="0.5">8</text>
<line x1="44.50" y1="485.00" x2="48.00" y2="485.00" stroke="#111" stroke-width="1.3" />
<text x="44.2" y="489.79999999999995" font-size="13.4" font-weight="normal" fill="#111" text-anchor="end" stroke="#111" stroke-width="0.5">10</text>
<text transform="translate(29.6,548.6) rotate(-90)" font-size="14" fill="#111" text-anchor="middle" stroke="#111" stroke-width="0.55">% Input</text>
<line x1="47.20" y1="620.80" x2="271.50" y2="620.80" stroke="#111" stroke-width="1.6" />
<line x1="51.15" y1="605.18" x2="51.15" y2="603.83" stroke="#151515" stroke-width="1.0" />
<line x1="50.05" y1="603.83" x2="52.25" y2="603.83" stroke="#151515" stroke-width="1.0" />
<rect x="49.85" y="605.53" width="2.60" height="15.27" fill="#eedb2a" stroke="#5a4a10" stroke-width="0.7" rx="0" />
<rect x="53.45" y="618.16" width="2.60" height="2.64" fill="#111" stroke="#000" stroke-width="0.7" rx="0" />
<line x1="58.35" y1="608.58" x2="58.35" y2="605.86" stroke="#151515" stroke-width="1.0" />
<line x1="57.25" y1="605.86" x2="59.45" y2="605.86" stroke="#151515" stroke-width="1.0" />
<rect x="57.05" y="608.93" width="2.60" height="11.87" fill="#c9822e" stroke="#5a3010" stroke-width="0.7" rx="0" />
<rect x="60.65" y="618.16" width="2.60" height="2.64" fill="#111" stroke="#000" stroke-width="0.7" rx="0" />
<line x1="65.55" y1="606.00" x2="65.55" y2="605.32" stroke="#151515" stroke-width="1.0" />
<line x1="64.45" y1="605.32" x2="66.65" y2="605.32" stroke="#151515" stroke-width="1.0" />
<rect x="64.25" y="606.35" width="2.60" height="14.45" fill="#1f35b8" stroke="#0a1040" stroke-width="0.7" rx="0" />
<rect x="67.85" y="618.43" width="2.60" height="2.37" fill="#111" stroke="#000" stroke-width="0.7" rx="0" />
<line x1="72.75" y1="606.54" x2="72.75" y2="603.82" stroke="#151515" stroke-width="1.0" />
<line x1="71.65" y1="603.82" x2="73.85" y2="603.82" stroke="#151515" stroke-width="1.0" />
<rect x="71.45" y="606.89" width="2.60" height="13.91" fill="#48c9a0" stroke="#1a5040" stroke-width="0.7" rx="0" />
<rect x="75.05" y="618.43" width="2.60" height="2.37" fill="#111" stroke="#000" stroke-width="0.7" rx="0" />
<line x1="64.10" y1="620.80" x2="64.10" y2="624.30" stroke="#111" stroke-width="1.2" />
<text transform="translate(66.69999999999999,634.4) rotate(-45)" font-size="13.6" fill="#111" text-anchor="end" stroke="#111" stroke-width="0.6">DHFR</text>
<line x1="83.35" y1="619.17" x2="83.35" y2="618.49" stroke="#151515" stroke-width="1.0" />
<line x1="82.25" y1="618.49" x2="84.45" y2="618.49" stroke="#151515" stroke-width="1.0" />
<rect x="82.05" y="619.52" width="2.60" height="1.28" fill="#2a2a2a" stroke="#5a4a10" stroke-width="0.7" rx="0" />
<line x1="86.95" y1="619.44" x2="86.95" y2="618.76" stroke="#151515" stroke-width="1.0" />
<line x1="85.85" y1="618.76" x2="88.05" y2="618.76" stroke="#151515" stroke-width="1.0" />
<rect x="85.65" y="619.79" width="2.60" height="1.01" fill="#2a2a2a" stroke="#000" stroke-width="0.7" rx="0" />
<line x1="90.55" y1="618.76" x2="90.55" y2="617.40" stroke="#151515" stroke-width="1.0" />
<line x1="89.45" y1="617.40" x2="91.65" y2="617.40" stroke="#151515" stroke-width="1.0" />
<rect x="89.25" y="619.11" width="2.60" height="1.69" fill="#2a2a2a" stroke="#5a3010" stroke-width="0.7" rx="0" />
<line x1="94.15" y1="619.44" x2="94.15" y2="618.76" stroke="#151515" stroke-width="1.0" />
<line x1="93.05" y1="618.76" x2="95.25" y2="618.76" stroke="#151515" stroke-width="1.0" />
<rect x="92.85" y="619.79" width="2.60" height="1.01" fill="#2a2a2a" stroke="#000" stroke-width="0.7" rx="0" />
<line x1="97.75" y1="619.17" x2="97.75" y2="618.49" stroke="#151515" stroke-width="1.0" />
<line x1="96.65" y1="618.49" x2="98.85" y2="618.49" stroke="#151515" stroke-width="1.0" />
<rect x="96.45" y="619.52" width="2.60" height="1.28" fill="#2a2a2a" stroke="#0a1040" stroke-width="0.7" rx="0" />
<line x1="101.35" y1="618.08" x2="101.35" y2="616.73" stroke="#151515" stroke-width="1.0" />
<line x1="100.25" y1="616.73" x2="102.45" y2="616.73" stroke="#151515" stroke-width="1.0" />
<rect x="100.05" y="618.43" width="2.60" height="2.37" fill="#2a2a2a" stroke="#000" stroke-width="0.7" rx="0" />
<line x1="104.95" y1="618.76" x2="104.95" y2="618.08" stroke="#151515" stroke-width="1.0" />
<line x1="103.85" y1="618.08" x2="106.05" y2="618.08" stroke="#151515" stroke-width="1.0" />
<rect x="103.65" y="619.11" width="2.60" height="1.69" fill="#2a2a2a" stroke="#1a5040" stroke-width="0.7" rx="0" />
<line x1="108.55" y1="619.44" x2="108.55" y2="618.76" stroke="#151515" stroke-width="1.0" />
<line x1="107.45" y1="618.76" x2="109.65" y2="618.76" stroke="#151515" stroke-width="1.0" />
<rect x="107.25" y="619.79" width="2.60" height="1.01" fill="#2a2a2a" stroke="#000" stroke-width="0.7" rx="0" />
<line x1="96.30" y1="620.80" x2="96.30" y2="624.30" stroke="#111" stroke-width="1.2" />
<text transform="translate(98.89999999999999,634.4) rotate(-45)" font-size="13.6" fill="#111" text-anchor="end" stroke="#111" stroke-width="0.6">GW10</text>
<line x1="115.55" y1="594.73" x2="115.55" y2="593.37" stroke="#151515" stroke-width="1.0" />
<line x1="114.45" y1="593.37" x2="116.65" y2="593.37" stroke="#151515" stroke-width="1.0" />
<rect x="114.25" y="595.08" width="2.60" height="25.72" fill="#eedb2a" stroke="#5a4a10" stroke-width="0.7" rx="0" />
<rect x="117.85" y="619.79" width="2.60" height="1.01" fill="#111" stroke="#000" stroke-width="0.7" rx="0" />
<line x1="122.75" y1="548.01" x2="122.75" y2="540.27" stroke="#151515" stroke-width="1.0" />
<line x1="121.65" y1="540.27" x2="123.85" y2="540.27" stroke="#151515" stroke-width="1.0" />
<rect x="121.45" y="548.36" width="2.60" height="72.44" fill="#c9822e" stroke="#5a3010" stroke-width="0.7" rx="0" />
<line x1="126.35" y1="612.92" x2="126.35" y2="610.89" stroke="#151515" stroke-width="1.0" />
<line x1="125.25" y1="610.89" x2="127.45" y2="610.89" stroke="#151515" stroke-width="1.0" />
<rect x="125.05" y="613.27" width="2.60" height="7.53" fill="#111" stroke="#000" stroke-width="0.7" rx="0" />
<line x1="129.95" y1="517.18" x2="129.95" y2="503.88" stroke="#151515" stroke-width="1.0" />
<line x1="128.85" y1="503.88" x2="131.05" y2="503.88" stroke="#151515" stroke-width="1.0" />
<rect x="128.65" y="517.53" width="2.60" height="103.27" fill="#1f35b8" stroke="#0a1040" stroke-width="0.7" rx="0" />
<rect x="132.25" y="619.52" width="2.60" height="1.28" fill="#111" stroke="#000" stroke-width="0.7" rx="0" />
<line x1="137.15" y1="548.69" x2="137.15" y2="542.17" stroke="#151515" stroke-width="1.0" />
<line x1="136.05" y1="542.17" x2="138.25" y2="542.17" stroke="#151515" stroke-width="1.0" />
<rect x="135.85" y="549.04" width="2.60" height="71.76" fill="#48c9a0" stroke="#1a5040" stroke-width="0.7" rx="0" />
<line x1="140.75" y1="614.96" x2="140.75" y2="613.60" stroke="#151515" stroke-width="1.0" />
<line x1="139.65" y1="613.60" x2="141.85" y2="613.60" stroke="#151515" stroke-width="1.0" />
<rect x="139.45" y="615.31" width="2.60" height="5.49" fill="#111" stroke="#000" stroke-width="0.7" rx="0" />
<line x1="128.50" y1="620.80" x2="128.50" y2="624.30" stroke="#111" stroke-width="1.2" />
<text transform="translate(131.1,634.4) rotate(-45)" font-size="13.6" fill="#111" text-anchor="end" stroke="#111" stroke-width="0.6">G6PD</text>
<line x1="147.75" y1="584.95" x2="147.75" y2="583.59" stroke="#151515" stroke-width="1.0" />
<line x1="146.65" y1="583.59" x2="148.85" y2="583.59" stroke="#151515" stroke-width="1.0" />
<rect x="146.45" y="585.30" width="2.60" height="35.50" fill="#eedb2a" stroke="#5a4a10" stroke-width="0.7" rx="0" />
<line x1="151.35" y1="614.01" x2="151.35" y2="612.65" stroke="#151515" stroke-width="1.0" />
<line x1="150.25" y1="612.65" x2="152.45" y2="612.65" stroke="#151515" stroke-width="1.0" />
<rect x="150.05" y="614.36" width="2.60" height="6.44" fill="#111" stroke="#000" stroke-width="0.7" rx="0" />
<line x1="154.95" y1="580.20" x2="154.95" y2="578.57" stroke="#151515" stroke-width="1.0" />
<line x1="153.85" y1="578.57" x2="156.05" y2="578.57" stroke="#151515" stroke-width="1.0" />
<rect x="153.65" y="580.55" width="2.60" height="40.25" fill="#c9822e" stroke="#5a3010" stroke-width="0.7" rx="0" />
<line x1="158.55" y1="611.57" x2="158.55" y2="606.81" stroke="#151515" stroke-width="1.0" />
<line x1="157.45" y1="606.81" x2="159.65" y2="606.81" stroke="#151515" stroke-width="1.0" />
<rect x="157.25" y="611.92" width="2.60" height="8.88" fill="#111" stroke="#000" stroke-width="0.7" rx="0" />
<line x1="162.15" y1="586.17" x2="162.15" y2="584.81" stroke="#151515" stroke-width="1.0" />
<line x1="161.05" y1="584.81" x2="163.25" y2="584.81" stroke="#151515" stroke-width="1.0" />
<rect x="160.85" y="586.52" width="2.60" height="34.28" fill="#1f35b8" stroke="#0a1040" stroke-width="0.7" rx="0" />
<line x1="165.75" y1="609.26" x2="165.75" y2="604.50" stroke="#151515" stroke-width="1.0" />
<line x1="164.65" y1="604.50" x2="166.85" y2="604.50" stroke="#151515" stroke-width="1.0" />
<rect x="164.45" y="609.61" width="2.60" height="11.19" fill="#111" stroke="#000" stroke-width="0.7" rx="0" />
<line x1="169.35" y1="583.32" x2="169.35" y2="581.69" stroke="#151515" stroke-width="1.0" />
<line x1="168.25" y1="581.69" x2="170.45" y2="581.69" stroke="#151515" stroke-width="1.0" />
<rect x="168.05" y="583.67" width="2.60" height="37.13" fill="#48c9a0" stroke="#1a5040" stroke-width="0.7" rx="0" />
<line x1="172.95" y1="612.38" x2="172.95" y2="609.66" stroke="#151515" stroke-width="1.0" />
<line x1="171.85" y1="609.66" x2="174.05" y2="609.66" stroke="#151515" stroke-width="1.0" />
<rect x="171.65" y="612.73" width="2.60" height="8.07" fill="#111" stroke="#000" stroke-width="0.7" rx="0" />
<line x1="160.70" y1="620.80" x2="160.70" y2="624.30" stroke="#111" stroke-width="1.2" />
<text transform="translate(163.29999999999998,634.4) rotate(-45)" font-size="13.6" fill="#111" text-anchor="end" stroke="#111" stroke-width="0.6">TPI</text>
<line x1="179.95" y1="602.20" x2="179.95" y2="601.52" stroke="#151515" stroke-width="1.0" />
<line x1="178.85" y1="601.52" x2="181.05" y2="601.52" stroke="#151515" stroke-width="1.0" />
<rect x="178.65" y="602.55" width="2.60" height="18.25" fill="#eedb2a" stroke="#5a4a10" stroke-width="0.7" rx="0" />
<line x1="183.55" y1="615.37" x2="183.55" y2="614.28" stroke="#151515" stroke-width="1.0" />
<line x1="182.45" y1="614.28" x2="184.65" y2="614.28" stroke="#151515" stroke-width="1.0" />
<rect x="182.25" y="615.72" width="2.60" height="5.08" fill="#111" stroke="#000" stroke-width="0.7" rx="0" />
<line x1="187.15" y1="601.52" x2="187.15" y2="600.84" stroke="#151515" stroke-width="1.0" />
<line x1="186.05" y1="600.84" x2="188.25" y2="600.84" stroke="#151515" stroke-width="1.0" />
<rect x="185.85" y="601.87" width="2.60" height="18.93" fill="#c9822e" stroke="#5a3010" stroke-width="0.7" rx="0" />
<line x1="190.75" y1="613.47" x2="190.75" y2="610.75" stroke="#151515" stroke-width="1.0" />
<line x1="189.65" y1="610.75" x2="191.85" y2="610.75" stroke="#151515" stroke-width="1.0" />
<rect x="189.45" y="613.82" width="2.60" height="6.98" fill="#111" stroke="#000" stroke-width="0.7" rx="0" />
<line x1="194.35" y1="603.82" x2="194.35" y2="599.21" stroke="#151515" stroke-width="1.0" />
<line x1="193.25" y1="599.21" x2="195.45" y2="599.21" stroke="#151515" stroke-width="1.0" />
<rect x="193.05" y="604.17" width="2.60" height="16.63" fill="#1f35b8" stroke="#0a1040" stroke-width="0.7" rx="0" />
<line x1="197.95" y1="614.69" x2="197.95" y2="612.65" stroke="#151515" stroke-width="1.0" />
<line x1="196.85" y1="612.65" x2="199.05" y2="612.65" stroke="#151515" stroke-width="1.0" />
<rect x="196.65" y="615.04" width="2.60" height="5.76" fill="#111" stroke="#000" stroke-width="0.7" rx="0" />
<line x1="201.55" y1="602.06" x2="201.55" y2="597.44" stroke="#151515" stroke-width="1.0" />
<line x1="200.45" y1="597.44" x2="202.65" y2="597.44" stroke="#151515" stroke-width="1.0" />
<rect x="200.25" y="602.41" width="2.60" height="18.39" fill="#48c9a0" stroke="#1a5040" stroke-width="0.7" rx="0" />
<line x1="205.15" y1="613.47" x2="205.15" y2="611.43" stroke="#151515" stroke-width="1.0" />
<line x1="204.05" y1="611.43" x2="206.25" y2="611.43" stroke="#151515" stroke-width="1.0" />
<rect x="203.85" y="613.82" width="2.60" height="6.98" fill="#111" stroke="#000" stroke-width="0.7" rx="0" />
<line x1="192.90" y1="620.80" x2="192.90" y2="624.30" stroke="#111" stroke-width="1.2" />
<text transform="translate(195.5,634.4) rotate(-45)" font-size="13.6" fill="#111" text-anchor="end" stroke="#111" stroke-width="0.6">GPI</text>
<line x1="212.15" y1="592.96" x2="212.15" y2="591.87" stroke="#151515" stroke-width="1.0" />
<line x1="211.05" y1="591.87" x2="213.25" y2="591.87" stroke="#151515" stroke-width="1.0" />
<rect x="210.85" y="593.31" width="2.60" height="27.49" fill="#eedb2a" stroke="#5a4a10" stroke-width="0.7" rx="0" />
<rect x="214.45" y="616.80" width="2.60" height="4.00" fill="#111" stroke="#000" stroke-width="0.7" rx="0" />
<line x1="219.35" y1="591.74" x2="219.35" y2="590.38" stroke="#151515" stroke-width="1.0" />
<line x1="218.25" y1="590.38" x2="220.45" y2="590.38" stroke="#151515" stroke-width="1.0" />
<rect x="218.05" y="592.09" width="2.60" height="28.71" fill="#c9822e" stroke="#5a3010" stroke-width="0.7" rx="0" />
<line x1="222.95" y1="616.73" x2="222.95" y2="616.05" stroke="#151515" stroke-width="1.0" />
<line x1="221.85" y1="616.05" x2="224.05" y2="616.05" stroke="#151515" stroke-width="1.0" />
<rect x="221.65" y="617.08" width="2.60" height="3.72" fill="#111" stroke="#000" stroke-width="0.7" rx="0" />
<line x1="226.55" y1="597.99" x2="226.55" y2="596.63" stroke="#151515" stroke-width="1.0" />
<line x1="225.45" y1="596.63" x2="227.65" y2="596.63" stroke="#151515" stroke-width="1.0" />
<rect x="225.25" y="598.34" width="2.60" height="22.46" fill="#1f35b8" stroke="#0a1040" stroke-width="0.7" rx="0" />
<line x1="230.15" y1="616.45" x2="230.15" y2="615.78" stroke="#151515" stroke-width="1.0" />
<line x1="229.05" y1="615.78" x2="231.25" y2="615.78" stroke="#151515" stroke-width="1.0" />
<rect x="228.85" y="616.80" width="2.60" height="4.00" fill="#111" stroke="#000" stroke-width="0.7" rx="0" />
<line x1="233.75" y1="605.05" x2="233.75" y2="602.74" stroke="#151515" stroke-width="1.0" />
<line x1="232.65" y1="602.74" x2="234.85" y2="602.74" stroke="#151515" stroke-width="1.0" />
<rect x="232.45" y="605.40" width="2.60" height="15.40" fill="#48c9a0" stroke="#1a5040" stroke-width="0.7" rx="0" />
<line x1="237.35" y1="614.15" x2="237.35" y2="612.79" stroke="#151515" stroke-width="1.0" />
<line x1="236.25" y1="612.79" x2="238.45" y2="612.79" stroke="#151515" stroke-width="1.0" />
<rect x="236.05" y="614.50" width="2.60" height="6.30" fill="#111" stroke="#000" stroke-width="0.7" rx="0" />
<line x1="225.10" y1="620.80" x2="225.10" y2="624.30" stroke="#111" stroke-width="1.2" />
<text transform="translate(227.7,634.4) rotate(-45)" font-size="13.6" fill="#111" text-anchor="end" stroke="#111" stroke-width="0.6">RPIA</text>
<line x1="244.35" y1="608.03" x2="244.35" y2="606.81" stroke="#151515" stroke-width="1.0" />
<line x1="243.25" y1="606.81" x2="245.45" y2="606.81" stroke="#151515" stroke-width="1.0" />
<rect x="243.05" y="608.38" width="2.60" height="12.42" fill="#eedb2a" stroke="#5a4a10" stroke-width="0.7" rx="0" />
<rect x="246.65" y="619.11" width="2.60" height="1.69" fill="#111" stroke="#000" stroke-width="0.7" rx="0" />
<line x1="251.55" y1="608.58" x2="251.55" y2="606.95" stroke="#151515" stroke-width="1.0" />
<line x1="250.45" y1="606.95" x2="252.65" y2="606.95" stroke="#151515" stroke-width="1.0" />
<rect x="250.25" y="608.93" width="2.60" height="11.87" fill="#c9822e" stroke="#5a3010" stroke-width="0.7" rx="0" />
<rect x="253.85" y="619.52" width="2.60" height="1.28" fill="#111" stroke="#000" stroke-width="0.7" rx="0" />
<line x1="258.75" y1="614.15" x2="258.75" y2="611.16" stroke="#151515" stroke-width="1.0" />
<line x1="257.65" y1="611.16" x2="259.85" y2="611.16" stroke="#151515" stroke-width="1.0" />
<rect x="257.45" y="614.50" width="2.60" height="6.30" fill="#1f35b8" stroke="#0a1040" stroke-width="0.7" rx="0" />
<rect x="261.05" y="619.52" width="2.60" height="1.28" fill="#111" stroke="#000" stroke-width="0.7" rx="0" />
<line x1="265.95" y1="611.97" x2="265.95" y2="610.21" stroke="#151515" stroke-width="1.0" />
<line x1="264.85" y1="610.21" x2="267.05" y2="610.21" stroke="#151515" stroke-width="1.0" />
<rect x="264.65" y="612.32" width="2.60" height="8.48" fill="#48c9a0" stroke="#1a5040" stroke-width="0.7" rx="0" />
<rect x="268.25" y="619.52" width="2.60" height="1.28" fill="#111" stroke="#000" stroke-width="0.7" rx="0" />
<line x1="257.30" y1="620.80" x2="257.30" y2="624.30" stroke="#111" stroke-width="1.2" />
<text transform="translate(259.90000000000003,634.4) rotate(-45)" font-size="13.6" fill="#111" text-anchor="end" stroke="#111" stroke-width="0.6">PGLS</text>
<polygon points="108.30,532.86 109.02,534.47 110.77,534.66 109.46,535.84 109.83,537.56 108.30,536.68 106.77,537.56 107.14,535.84 105.83,534.66 107.58,534.47" fill="#111" stroke="#111" stroke-width="0.5" stroke-linejoin="round"/>
<polygon points="113.20,532.86 113.92,534.47 115.67,534.66 114.36,535.84 114.73,537.56 113.20,536.68 111.67,537.56 112.04,535.84 110.73,534.66 112.48,534.47" fill="#111" stroke="#111" stroke-width="0.5" stroke-linejoin="round"/>
<polygon points="118.10,532.86 118.82,534.47 120.57,534.66 119.26,535.84 119.63,537.56 118.10,536.68 116.57,537.56 116.94,535.84 115.63,534.66 117.38,534.47" fill="#111" stroke="#111" stroke-width="0.5" stroke-linejoin="round"/>
<polygon points="110.40,502.06 111.12,503.67 112.87,503.86 111.56,505.04 111.93,506.76 110.40,505.88 108.87,506.76 109.24,505.04 107.93,503.86 109.68,503.67" fill="#111" stroke="#111" stroke-width="0.5" stroke-linejoin="round"/>
<polygon points="115.80,502.06 116.52,503.67 118.27,503.86 116.96,505.04 117.33,506.76 115.80,505.88 114.27,506.76 114.64,505.04 113.33,503.86 115.08,503.67" fill="#111" stroke="#111" stroke-width="0.5" stroke-linejoin="round"/>
<polygon points="121.20,502.06 121.92,503.67 123.67,503.86 122.36,505.04 122.73,506.76 121.20,505.88 119.67,506.76 120.04,505.04 118.73,503.86 120.48,503.67" fill="#111" stroke="#111" stroke-width="0.5" stroke-linejoin="round"/>
<polygon points="137.90,532.86 138.62,534.47 140.37,534.66 139.06,535.84 139.43,537.56 137.90,536.68 136.37,537.56 136.74,535.84 135.43,534.66 137.18,534.47" fill="#111" stroke="#111" stroke-width="0.5" stroke-linejoin="round"/>
<polygon points="142.80,532.86 143.52,534.47 145.27,534.66 143.96,535.84 144.33,537.56 142.80,536.68 141.27,537.56 141.64,535.84 140.33,534.66 142.08,534.47" fill="#111" stroke="#111" stroke-width="0.5" stroke-linejoin="round"/>
<polygon points="147.80,532.86 148.52,534.47 150.27,534.66 148.96,535.84 149.33,537.56 147.80,536.68 146.27,537.56 146.64,535.84 145.33,534.66 147.08,534.47" fill="#111" stroke="#111" stroke-width="0.5" stroke-linejoin="round"/>
<rect x="216.00" y="483.70" width="10.60" height="12.20" fill="#f8ee12" stroke="#111" stroke-width="1.1" rx="0" />
<text x="231.6" y="494.4" font-size="12.6" font-weight="normal" fill="#050505" text-anchor="start" stroke="#050505" stroke-width="0.5" >untreated</text>
<rect x="216.00" y="496.86" width="10.60" height="12.20" fill="#0a0a0a" stroke="#111" stroke-width="1.1" rx="0" />
<text x="231.6" y="507.56" font-size="12.6" font-weight="normal" fill="#050505" text-anchor="start" stroke="#050505" stroke-width="0.5" >untreated /IgG</text>
<rect x="216.00" y="510.02" width="10.60" height="12.20" fill="#f88a16" stroke="#111" stroke-width="1.1" rx="0" />
<text x="231.6" y="520.72" font-size="12.6" font-weight="normal" fill="#050505" text-anchor="start" stroke="#050505" stroke-width="0.5" >1h</text>
<rect x="216.00" y="523.18" width="10.60" height="12.20" fill="#0a0a0a" stroke="#111" stroke-width="1.1" rx="0" />
<text x="231.6" y="533.88" font-size="12.6" font-weight="normal" fill="#050505" text-anchor="start" stroke="#050505" stroke-width="0.5" >1h/IgG</text>
<rect x="216.00" y="536.34" width="10.60" height="12.20" fill="#1a3ef2" stroke="#111" stroke-width="1.1" rx="0" />
<text x="231.6" y="547.0400000000001" font-size="12.6" font-weight="normal" fill="#050505" text-anchor="start" stroke="#050505" stroke-width="0.5" >5h</text>
<rect x="216.00" y="549.50" width="10.60" height="12.20" fill="#0a0a0a" stroke="#111" stroke-width="1.1" rx="0" />
<text x="231.6" y="560.2" font-size="12.6" font-weight="normal" fill="#050505" text-anchor="start" stroke="#050505" stroke-width="0.5" >5h /IgG</text>
<rect x="216.00" y="562.66" width="10.60" height="12.20" fill="#3fe6b6" stroke="#111" stroke-width="1.1" rx="0" />
<text x="231.6" y="573.36" font-size="12.6" font-weight="normal" fill="#050505" text-anchor="start" stroke="#050505" stroke-width="0.5" >24h</text>
<rect x="216.00" y="575.82" width="10.60" height="12.20" fill="#0a0a0a" stroke="#111" stroke-width="1.1" rx="0" />
<text x="231.6" y="586.52" font-size="12.6" font-weight="normal" fill="#050505" text-anchor="start" stroke="#050505" stroke-width="0.5" >24h /IgG</text>
<text x="316.2" y="475.9" font-size="18" font-weight="bold" fill="#000" text-anchor="start" stroke="#000" stroke-width="0.4" >E</text>
<text x="370.3" y="484.8" font-size="13.6" font-weight="bold" fill="#111" text-anchor="start" >G6PD mRNA</text>
<line x1="350.90" y1="481.60" x2="350.90" y2="564.50" stroke="#111" stroke-width="1.4" />
<line x1="350.90" y1="571.60" x2="350.90" y2="613.60" stroke="#111" stroke-width="1.4" />
<line x1="348.10" y1="482.20" x2="350.90" y2="482.20" stroke="#111" stroke-width="1.2" />
<text x="347.6" y="487.2" font-size="13.6" font-weight="normal" fill="#111" text-anchor="end" stroke="#111" stroke-width="0.5">5</text>
<line x1="348.10" y1="501.90" x2="350.90" y2="501.90" stroke="#111" stroke-width="1.2" />
<text x="347.6" y="506.9" font-size="13.6" font-weight="normal" fill="#111" text-anchor="end" stroke="#111" stroke-width="0.5">4</text>
<line x1="348.10" y1="521.60" x2="350.90" y2="521.60" stroke="#111" stroke-width="1.2" />
<text x="347.6" y="526.6" font-size="13.6" font-weight="normal" fill="#111" text-anchor="end" stroke="#111" stroke-width="0.5">3</text>
<line x1="348.10" y1="541.30" x2="350.90" y2="541.30" stroke="#111" stroke-width="1.2" />
<text x="347.6" y="546.3" font-size="13.6" font-weight="normal" fill="#111" text-anchor="end" stroke="#111" stroke-width="0.5">2</text>
<line x1="348.10" y1="561.00" x2="350.90" y2="561.00" stroke="#111" stroke-width="1.2" />
<text x="347.6" y="566.0" font-size="13.6" font-weight="normal" fill="#111" text-anchor="end" stroke="#111" stroke-width="0.5">1</text>
<line x1="348.10" y1="564.20" x2="350.90" y2="564.20" stroke="#111" stroke-width="1.2" />
<line x1="348.10" y1="572.30" x2="350.90" y2="572.30" stroke="#111" stroke-width="1.2" />
<text x="345.2" y="577.3" font-size="13.6" font-weight="normal" fill="#111" text-anchor="end" stroke="#111" stroke-width="0.5">0.2</text>
<line x1="348.10" y1="592.30" x2="350.90" y2="592.30" stroke="#111" stroke-width="1.2" />
<text x="345.2" y="597.3" font-size="13.6" font-weight="normal" fill="#111" text-anchor="end" stroke="#111" stroke-width="0.5">0.1</text>
<line x1="348.10" y1="612.30" x2="350.90" y2="612.30" stroke="#111" stroke-width="1.2" />
<text x="345.2" y="617.3" font-size="13.6" font-weight="normal" fill="#111" text-anchor="end" stroke="#111" stroke-width="0.5">0.0</text>
<text transform="translate(323.2,567.6) rotate(-90)" font-size="13.4" fill="#111" text-anchor="middle" stroke="#111" stroke-width="0.5">Fold change</text>
<line x1="350.20" y1="612.90" x2="485.50" y2="612.90" stroke="#111" stroke-width="1.4" />
<line x1="384.40" y1="612.90" x2="384.40" y2="616.50" stroke="#111" stroke-width="1.2" />
<line x1="451.60" y1="612.90" x2="451.60" y2="616.50" stroke="#111" stroke-width="1.2" />
<rect x="363.70" y="560.40" width="17.00" height="52.50" fill="#1990ee" stroke="#0a1a2a" stroke-width="1.6" rx="0" />
<rect x="389.00" y="516.70" width="16.60" height="96.20" fill="#f5288a" stroke="#300818" stroke-width="1.6" rx="0" />
<rect x="355.00" y="564.50" width="56.00" height="7.30" fill="#fff" stroke="none" stroke-width="0" rx="0" />
<line x1="397.30" y1="516.60" x2="397.30" y2="505.30" stroke="#111" stroke-width="1.5" />
<line x1="393.00" y1="505.30" x2="402.00" y2="505.30" stroke="#111" stroke-width="1.7" />
<path d="M394.6 516.8 L397.3 520.6 L400 516.8 Z" fill="#111"/>
<rect x="431.00" y="604.60" width="16.60" height="8.30" fill="#1990ee" stroke="#0a1a2a" stroke-width="1.6" rx="0" />
<line x1="439.30" y1="604.20" x2="439.30" y2="598.80" stroke="#111" stroke-width="1.5" />
<line x1="434.00" y1="598.80" x2="444.40" y2="598.80" stroke="#111" stroke-width="1.7" />
<rect x="457.00" y="601.70" width="15.80" height="11.20" fill="#f5288a" stroke="#300818" stroke-width="1.6" rx="0" />
<line x1="464.80" y1="601.50" x2="464.80" y2="591.80" stroke="#111" stroke-width="1.5" />
<line x1="460.20" y1="591.80" x2="469.20" y2="591.80" stroke="#111" stroke-width="1.7" />
<text x="384.6" y="628.2" font-size="13.2" font-weight="normal" fill="#111" text-anchor="middle" stroke="#111" stroke-width="0.5">control</text>
<text x="452.0" y="627.6" font-size="13.2" font-weight="normal" fill="#111" text-anchor="middle" stroke="#111" stroke-width="0.5">DN</text>
<rect x="423.80" y="539.70" width="11.20" height="13.10" fill="#f5288a" stroke="#111" stroke-width="1.2" rx="0" />
<rect x="423.80" y="560.40" width="11.20" height="13.10" fill="#1990ee" stroke="#111" stroke-width="1.2" rx="0" />
<text x="439.8" y="551.4" font-size="13.3" font-weight="normal" fill="#111" text-anchor="start" stroke="#111" stroke-width="0.35" >48h NaBu</text>
<text x="439.8" y="571.2" font-size="13.3" font-weight="normal" fill="#111" text-anchor="start" stroke="#111" stroke-width="0.35" >Untreated</text>
</svg>
</body></html>
